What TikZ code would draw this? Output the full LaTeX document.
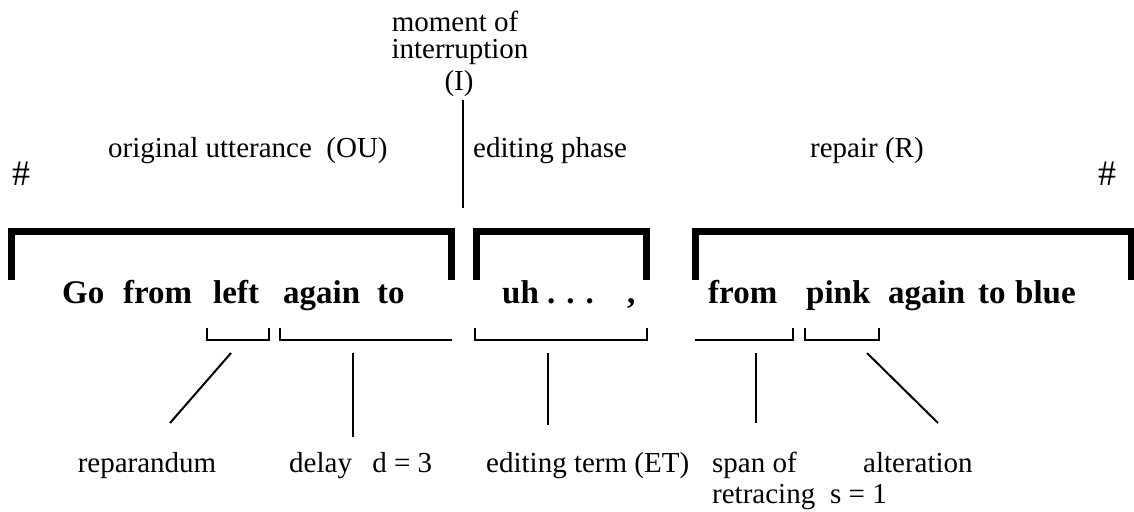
\documentclass[tikz,border=0pt]{standalone}
\usepackage{fontspec}
\setmainfont{Liberation Serif}
\begin{document}
\begin{tikzpicture}[x=1pt,y=-1pt,
  lbl/.style={font=\fontsize{29}{30}\selectfont, inner sep=0pt, anchor=base west},
  word/.style={font=\fontsize{33}{36}\selectfont\bfseries, inner sep=0pt, anchor=base west},
  hash/.style={font=\fontsize{36}{38}\selectfont, inner sep=0pt, anchor=base west},
  bigbracket/.style={line width=7pt, line join=miter},
  smallbracket/.style={line width=2pt, line join=miter},
  link/.style={line width=2pt}]
\useasboundingbox (0,0) rectangle (1134,511);

% interruption point
\node[lbl, anchor=base] (mom1) at (455,32) {moment of};
\node[lbl, anchor=base] (mom2) at (460,59) {interruption};
\node[lbl, anchor=base] (mom3) at (459,90) {(I)};
\coordinate (itop) at (463,100);
\coordinate (ibot) at (463,208);
\draw[link] (itop) -- (ibot);

% phase labels
\node[hash] (hashL) at (12,185) {\#};
\node[hash] (hashR) at (1098,185) {\#};
\node[lbl] (ou) at (108,157) {original utterance\hspace{0.5em}(OU)};
\node[lbl] (ep) at (473,157) {editing phase};
\node[lbl] (rep) at (810,157) {repair\hspace{0.25em}(R)};

% phase brackets
\draw[bigbracket] (11,280) -- (11,231) -- (451,231) -- (451,280);
\draw[bigbracket] (476,280) -- (476,231) -- (646,231) -- (646,280);
\draw[bigbracket] (695,280) -- (695,231) -- (1131,231) -- (1131,280);

% the utterance
\node[word] (w1) at (62,303) {Go};
\node[word] (w2) at (123,303) {from};
\node[word] (w3) at (213,303) {left};
\node[word] (w4) at (283,303) {again};
\node[word] (w5) at (377,303) {to};
\node[word] (w6) at (502,303) {uh . . .};
\node[word] (w7) at (627,303) {,};
\node[word] (w8) at (708,303) {from};
\node[word] (w9) at (806,303) {pink};
\node[word] (w10) at (888,303) {again};
\node[word] (w11) at (978,303) {to};
\node[word] (w12) at (1015,303) {blue};

% spans under the words
\draw[smallbracket] (207,328) -- (207,340) -- (269,340) -- (269,328);
\draw[smallbracket] (280,328) -- (280,340) -- (452,340);
\draw[smallbracket] (475,328) -- (475,340) -- (647,340) -- (647,328);
\draw[smallbracket] (695,340) -- (793,340) -- (793,328);
\draw[smallbracket] (805,328) -- (805,340) -- (879,340) -- (879,328);

% span anchors and label ends
\coordinate (sRep) at (231,353);  \coordinate (eRep) at (170,423);
\coordinate (sDel) at (353,353);  \coordinate (eDel) at (353,437);
\coordinate (sET)  at (548,353);  \coordinate (eET)  at (548,425);
\coordinate (sSpn) at (756,353);  \coordinate (eSpn) at (756,423);
\coordinate (sAlt) at (867,353);  \coordinate (eAlt) at (938,423);
\draw[link] (sRep) -- (eRep);
\draw[link] (sDel) -- (eDel);
\draw[link] (sET) -- (eET);
\draw[link] (sSpn) -- (eSpn);
\draw[link] (sAlt) -- (eAlt);

% labels
\node[lbl, anchor=base] (lRep) at (147,472) {reparandum};
\node[lbl] (lDel) at (289,472) {delay\hspace{0.7em}d = 3};
\node[lbl] (lET) at (486,472) {editing term (ET)};
\node[lbl] (lSpn) at (712,472) {span of};
\node[lbl] (lRet) at (712,503) {retracing};
\node[lbl] (lS) at (830,503) {s = 1};
\node[lbl] (lAlt) at (863,472) {alteration};
\end{tikzpicture}
\end{document}
